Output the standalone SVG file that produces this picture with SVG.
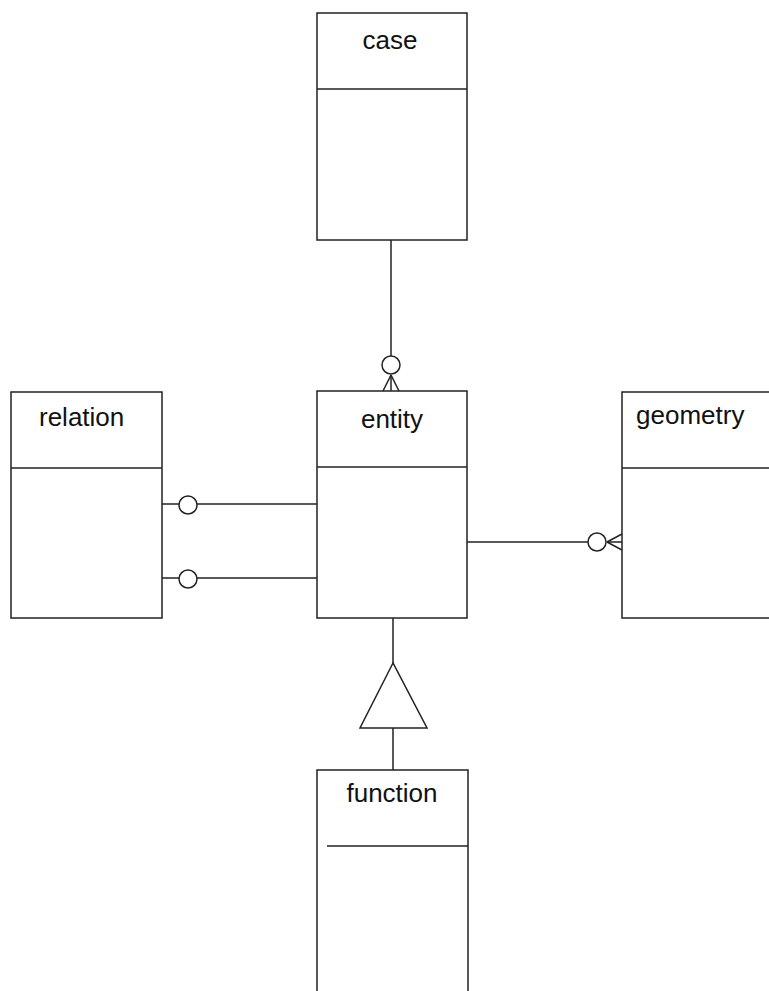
<svg xmlns="http://www.w3.org/2000/svg" width="769" height="991" viewBox="0 0 769 991">
<style>
.box{fill:#fff;stroke:#222;stroke-width:1.5}
.ln{fill:none;stroke:#222;stroke-width:1.5}
.lbl{font-family:"Liberation Sans",Arial,sans-serif;font-size:26px;fill:#111}
</style>
<rect width="769" height="991" fill="#fff"/>
<g id="case">
<rect class="box" x="317" y="13" width="150" height="227"/>
<line class="ln" x1="317" y1="89" x2="467" y2="89"/>
<text class="lbl" x="390" y="49" text-anchor="middle">case</text>
</g>
<g id="entity">
<rect class="box" x="317" y="391" width="150" height="227"/>
<line class="ln" x1="317" y1="467" x2="467" y2="467"/>
<text class="lbl" x="392" y="428" text-anchor="middle">entity</text>
</g>
<g id="relation">
<rect class="box" x="11" y="392" width="151" height="226"/>
<line class="ln" x1="11" y1="468" x2="162" y2="468"/>
<text class="lbl" x="39" y="426">relation</text>
</g>
<g id="geometry">
<rect class="box" x="622" y="392" width="160" height="226"/>
<line class="ln" x1="622" y1="468" x2="769" y2="468"/>
<text class="lbl" x="636" y="424">geometry</text>
</g>
<g id="function">
<rect class="box" x="317" y="770" width="151" height="240"/>
<line class="ln" x1="327" y1="846" x2="468" y2="846"/>
<text class="lbl" x="392" y="802" text-anchor="middle">function</text>
</g>
<g id="connectors">
<!-- case - entity -->
<line class="ln" x1="391" y1="240" x2="391" y2="356"/>
<circle class="ln" cx="391" cy="365" r="9"/>
<line class="ln" x1="391" y1="375" x2="391" y2="391"/>
<line class="ln" x1="391" y1="375" x2="383" y2="391"/>
<line class="ln" x1="391" y1="375" x2="399" y2="391"/>
<!-- relation - entity (1) -->
<line class="ln" x1="162" y1="504" x2="179" y2="504"/>
<circle class="ln" cx="188" cy="505" r="9"/>
<line class="ln" x1="197" y1="504" x2="317" y2="504"/>
<!-- relation - entity (2) -->
<line class="ln" x1="162" y1="578" x2="179" y2="578"/>
<circle class="ln" cx="188" cy="579" r="9"/>
<line class="ln" x1="197" y1="578" x2="317" y2="578"/>
<!-- entity - geometry -->
<line class="ln" x1="467" y1="542" x2="588" y2="542"/>
<circle class="ln" cx="597" cy="542" r="9"/>
<line class="ln" x1="607" y1="542" x2="622" y2="542"/>
<line class="ln" x1="607" y1="542" x2="622" y2="534"/>
<line class="ln" x1="607" y1="542" x2="622" y2="550"/>
<!-- inheritance -->
<line class="ln" x1="393" y1="618" x2="393" y2="663"/>
<polygon class="ln" points="393,663 360,728 427,728"/>
<line class="ln" x1="393" y1="728" x2="393" y2="770"/>
</g>
</svg>
